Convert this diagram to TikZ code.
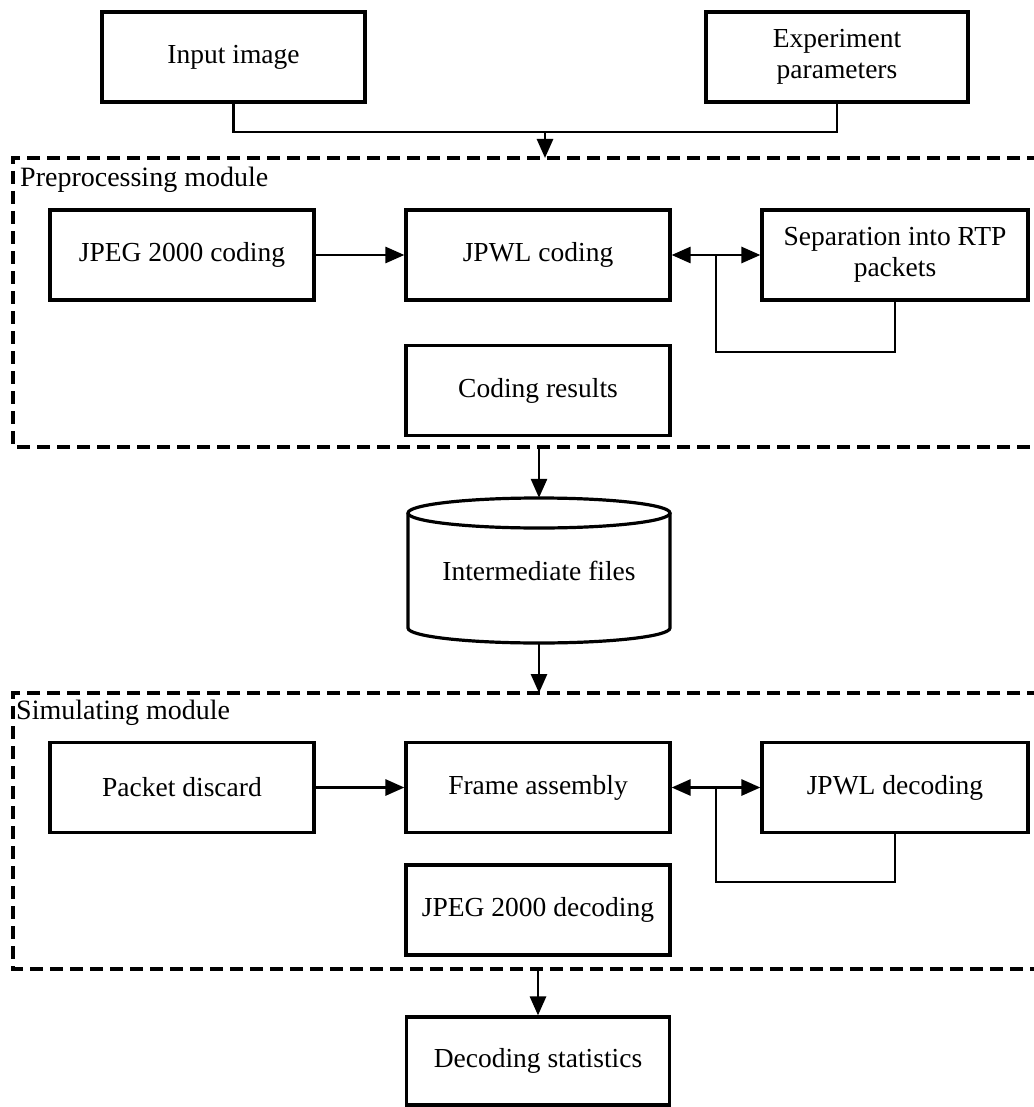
\documentclass[tikz,border=0pt]{standalone}
\usepackage{fontspec}
\setmainfont{Liberation Serif}
\usetikzlibrary{arrows.meta}
\begin{document}
\begin{tikzpicture}[x=1pt,y=-1pt,
  blk/.style={draw, line width=3.2pt, minimum width=#1, minimum height=90pt, inner sep=2pt, align=center, font=\fontsize{27.5}{31}\selectfont},
  blk/.default=264pt,
  conn/.style={line width=2.8pt},
  arr/.style={line width=2.8pt, -{Triangle[length=19pt,width=16pt]}},
  darr/.style={line width=2.8pt, {Triangle[length=19pt,width=16pt]}-{Triangle[length=19pt,width=16pt]}},
  modbox/.style={line width=4pt, dash pattern=on 13pt off 7pt},
  modlbl/.style={anchor=west, inner sep=0pt, font=\fontsize{28}{32}\selectfont}]
\useasboundingbox (0,0) rectangle (1033,1107);
% top inputs
\node[blk=263pt] (inp) at (233.5,57) {Input image};
\node[blk=262pt] (exp) at (837,57) {Experiment\\parameters};
\coordinate (join) at (545,132);
\draw[conn] (inp.south) |- (join) -| (exp.south);
% preprocessing module
\draw[modbox] (1040,158) -- (13,158) -- (13,447) -- (1040,447);
\node[modlbl] (prelbl) at (20,180) {Preprocessing module};
\coordinate (pretop) at (545,158);
\draw[arr] (join) -- (pretop);
\node[blk] (jpc) at (182,255) {JPEG 2000 coding};
\node[blk] (jwc) at (538,255) {JPWL coding};
\node[blk=266pt] (sep) at (895,255) {Separation into RTP\\packets};
\node[blk] (cres) at (538,390.5) {Coding results};
\draw[arr] (jpc) -- (jwc);
\draw[darr] (jwc) -- (sep);
\coordinate (pj) at (716,255);
\coordinate (pl) at (716,352);
\draw[conn] (pj) -- (pl) -| (sep.south);
% intermediate files
\coordinate (prebot) at (539,447);
\node[minimum width=262pt, minimum height=145pt, inner sep=0pt, font=\fontsize{27.5}{31}\selectfont] (files) at (539,570.5) {\raisebox{-8pt}{Intermediate files}};
\draw[line width=3.2pt] (539,513) ellipse [x radius=131pt, y radius=15pt];
\draw[line width=3.2pt] (408,513) -- (408,628) arc[start angle=180, end angle=360, x radius=131pt, y radius=15pt] -- (670,513);
\draw[arr] (prebot) -- (files.north);
% simulating module
\draw[modbox] (1040,693) -- (13,693) -- (13,969) -- (1040,969);
\node[modlbl] (simlbl) at (16,713) {Simulating module};
\coordinate (simtop) at (539,693);
\draw[arr] (files.south) -- (simtop);
\node[blk] (pd) at (182,787.5) {Packet discard};
\node[blk] (fa) at (538,787.5) {Frame assembly};
\node[blk=266pt] (jwd) at (895,787.5) {JPWL decoding};
\node[blk] (jpd) at (538,910) {JPEG 2000 decoding};
\draw[arr] (pd) -- (fa);
\draw[darr] (fa) -- (jwd);
\coordinate (sj) at (716,787.5);
\coordinate (sl) at (716,882);
\draw[conn] (sj) -- (sl) -| (jwd.south);
\coordinate (simbot) at (538,969);
\node[blk=263pt, minimum height=88pt] (stats) at (538,1061) {Decoding statistics};
\draw[arr] (simbot) -- (stats.north);
\end{tikzpicture}
\end{document}
